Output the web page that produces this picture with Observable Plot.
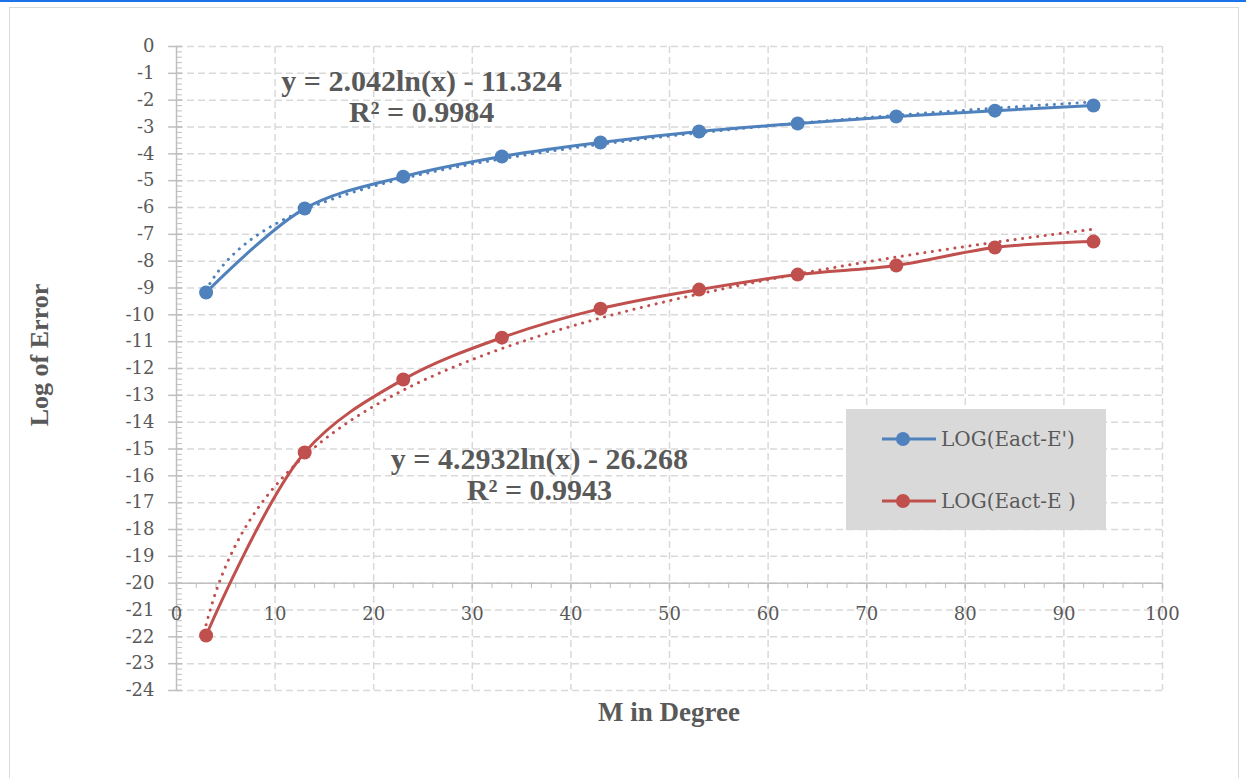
<!DOCTYPE html>
<html>
<head>
<meta charset="utf-8">
<script src="https://cdn.jsdelivr.net/npm/d3@7"></script>
<script src="https://cdn.jsdelivr.net/npm/@observablehq/plot@0.6"></script>
<style>
  html, body { margin: 0; padding: 0; background: #fff; }
  body { width: 1246px; height: 778px; position: relative; overflow: hidden; font-family: "Liberation Serif", "DejaVu Serif", serif; }
  #topline { position: absolute; left: 0; top: 0; width: 1246px; height: 2px; background: #1a73e8; }
  #frame { position: absolute; left: 9px; top: 7px; width: 1230px; height: 790px; border: 1px solid #d9d9d9; box-sizing: border-box; }
  #chart { position: absolute; left: 0; top: 0; }
  .ttl { position: absolute; color: #595959; font-weight: bold; white-space: nowrap; }
  #ytitle { left: 40px; top: 355px; font-size: 26px; transform: translate(-50%, -50%) rotate(-90deg); }
  #xtitle { left: 669px; top: 712px; font-size: 27px; transform: translate(-50%, -50%); }
  #legend { position: absolute; left: 846px; top: 409px; width: 260px; height: 121px; background: #d9d9d9; }
  .lg { position: absolute; left: 35px; height: 24px; display: flex; align-items: center; color: #595959; font-size: 20px; font-family: "DejaVu Serif", serif; }
  .lg svg { margin-right: 4px; }
</style>
</head>
<body>
<div id="topline"></div>
<div id="frame"></div>
<div id="chart"></div>
<div id="ytitle" class="ttl">Log of Error</div>
<div id="xtitle" class="ttl">M in Degree</div>
<div id="legend"></div>
<script>
// ---- data ----
const degrees = [3, 13, 23, 33, 43, 53, 63, 73, 83, 93];
const logErrPrime = [-9.17, -6.04, -4.85, -4.10, -3.58, -3.17, -2.87, -2.61, -2.39, -2.20]; // LOG(Eact-E')
const logErr = [-21.95, -15.13, -12.41, -10.85, -9.77, -9.06, -8.50, -8.16, -7.49, -7.27];   // LOG(Eact-E )
const seriesNames = ["LOG(Eact-E')", "LOG(Eact-E )"];
const seriesColors = ["#4f81bd", "#c0504d"];
// logarithmic trendline coefficients shown on the chart: y = a ln(x) + b
const trendA = [2.042, 4.2932];
const trendB = [-11.324, -26.268];
const trendLabels = ["y = 2.042ln(x) - 11.324", "y = 4.2932ln(x) - 26.268"];
const r2Labels = ["R² = 0.9984", "R² = 0.9943"];
const xTicks = [0, 10, 20, 30, 40, 50, 60, 70, 80, 90, 100];
const yTicks = d3.range(0, -25, -1);
const xMinor = d3.range(0, 101, 2);
const yMinor = d3.range(0, -24.01, -0.2).map(v => +v.toFixed(1));

const pts = [];
degrees.forEach((x, i) => {
  pts.push({x, y: logErrPrime[i], s: seriesNames[0]});
  pts.push({x, y: logErr[i], s: seriesNames[1]});
});
const trend = [];
seriesNames.forEach((s, k) => {
  const x0 = degrees[0], x1 = degrees[degrees.length - 1];
  for (let j = 0; j <= 200; j++) {
    const x = x0 + (x1 - x0) * j / 200;
    trend.push({x, y: trendA[k] * Math.log(x) + trendB[k], s});
  }
});

const grid = "#d9d9d9", axisC = "#bfbfbf", textC = "#595959";
const tickFont = "DejaVu Serif, serif";
const boldFont = "Liberation Serif, serif";

const plot = Plot.plot({
  width: 1246,
  height: 778,
  marginLeft: 176,
  marginRight: 84,
  marginTop: 46,
  marginBottom: 88,
  style: {fontFamily: tickFont, background: "transparent", overflow: "visible"},
  x: {domain: [0, 100], axis: null},
  y: {domain: [-24, 0], axis: null},
  color: {domain: seriesNames, range: seriesColors},
  marks: [
    Plot.gridX(xTicks.filter(d => d > 0), {stroke: grid, strokeOpacity: 1, strokeWidth: 1.5, strokeDasharray: "7,4"}),
    Plot.gridY(yTicks, {stroke: grid, strokeOpacity: 1, strokeWidth: 1.5, strokeDasharray: "7,4"}),
    // y axis line and ticks
    Plot.ruleX([0], {stroke: axisC, strokeWidth: 1.5}),
    Plot.ruleY(yMinor, {y: d => d, x1: 0, x2: 0.6, stroke: axisC, strokeWidth: 1}),
    Plot.ruleY(yTicks, {y: d => d, x1: -0.8, x2: 0.6, stroke: axisC, strokeWidth: 1.5}),
    Plot.axisY(yTicks, {label: null, tickSize: 0, tickPadding: 22, tickFormat: d => String(d), fontSize: 18, fontFamily: tickFont, color: textC}),
    // x axis line (crossing at -20) and ticks
    Plot.ruleY([-20], {stroke: axisC, strokeWidth: 1.5}),
    Plot.ruleX(xMinor, {x: d => d, y1: -20, y2: -20.2, stroke: axisC, strokeWidth: 1}),
    Plot.ruleX(xTicks, {x: d => d, y1: -20, y2: -20.22, stroke: axisC, strokeWidth: 1.5}),
    Plot.text(xTicks, {x: d => d, y: -20, dy: 31, text: d => String(d), fontSize: 18, fontFamily: tickFont, fill: textC}),
    // trendlines (dotted)
    Plot.line(trend, {x: "x", y: "y", z: "s", stroke: "s", strokeWidth: 3, strokeDasharray: "0.1,7.5", strokeLinecap: "round"}),
    // series
    Plot.line(pts, {x: "x", y: "y", z: "s", stroke: "s", strokeWidth: 3, curve: "catmull-rom"}),
    Plot.dot(pts, {x: "x", y: "y", fill: "s", r: 7}),
    // trendline equations
    Plot.text([trendLabels[0]], {x: 24.85, y: -1.3, text: d => d, fontSize: 30, fontFamily: boldFont, fontWeight: "bold", fill: textC}),
    Plot.text([r2Labels[0]], {x: 24.85, y: -2.46, text: d => d, fontSize: 30, fontFamily: boldFont, fontWeight: "bold", fill: textC}),
    Plot.text([trendLabels[1]], {x: 36.8, y: -15.39, text: d => d, fontSize: 30, fontFamily: boldFont, fontWeight: "bold", fill: textC}),
    Plot.text([r2Labels[1]], {x: 36.8, y: -16.55, text: d => d, fontSize: 30, fontFamily: boldFont, fontWeight: "bold", fill: textC})
  ]
});
document.getElementById("chart").appendChild(plot);

// legend
const legend = document.getElementById("legend");
seriesNames.forEach((name, i) => {
  const row = document.createElement("div");
  row.className = "lg";
  row.style.top = (i === 0 ? 18 : 80) + "px";
  row.innerHTML = `<svg width="56" height="16"><line x1="1" y1="8" x2="55" y2="8" stroke="${seriesColors[i]}" stroke-width="3"/><circle cx="22" cy="8" r="7" fill="${seriesColors[i]}"/></svg><span>${name}</span>`;
  legend.appendChild(row);
});
</script>
</body>
</html>
